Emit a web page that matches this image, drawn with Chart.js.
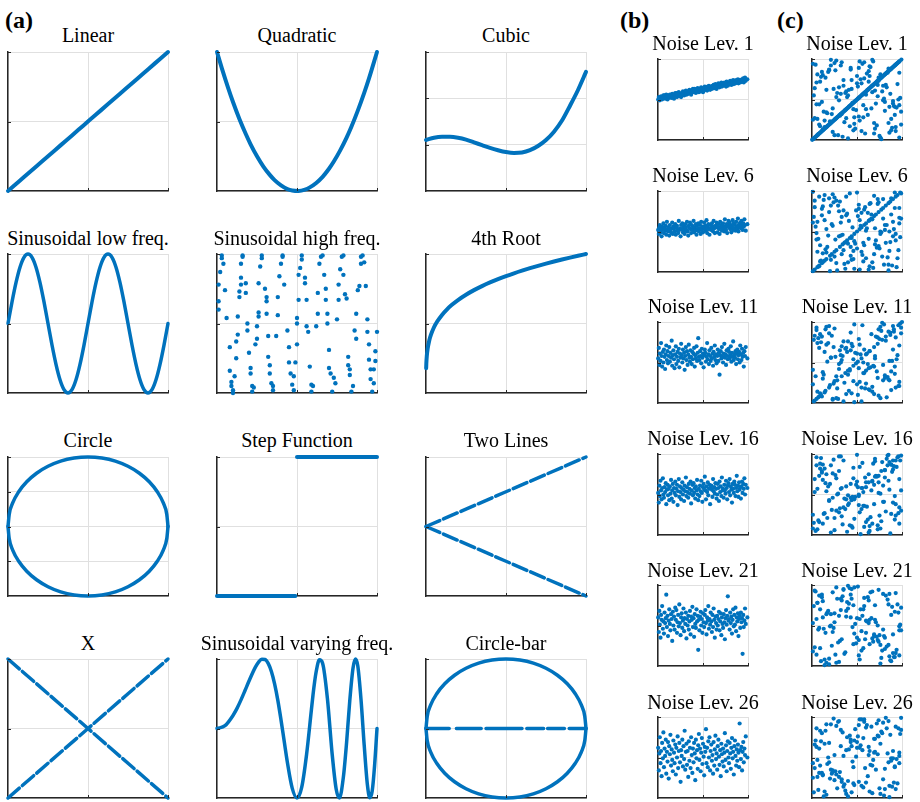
<!DOCTYPE html>
<html>
<head>
<meta charset="utf-8">
<script src="https://cdn.jsdelivr.net/npm/chart.js@4.4.0/dist/chart.umd.min.js"></script>
<style>
  body { margin: 0; background: #fff; width: 920px; height: 802px; position: relative; overflow: hidden; font-family: 'Liberation Serif', 'Times New Roman', serif; }
  .ttl { position: absolute; width: 300px; text-align: center; font-size: 20px; line-height: 24px; color: #000; white-space: nowrap; }
  .lbl { position: absolute; font-size: 24px; line-height: 24px; font-weight: bold; color: #000; }
  canvas { position: absolute; }
</style>
</head>
<body>
<div class="lbl" style="left:5px;top:8px">(a)</div>
<div class="lbl" style="left:620px;top:8px">(b)</div>
<div class="lbl" style="left:777px;top:8px">(c)</div>
<script>
// ---- (a) function shapes ----
const curveX = [0,0.03,0.07,0.1,0.14,0.18,0.21,0.25,0.29,0.33,0.36,0.4,0.44,0.47,0.51,0.55,0.58,0.62,0.66,0.7,0.73,0.77,0.81,0.84,0.88,0.92,0.95,1];
const linY = [0,0.03,0.07,0.1,0.14,0.18,0.21,0.25,0.29,0.33,0.36,0.4,0.44,0.47,0.51,0.55,0.58,0.62,0.66,0.7,0.73,0.77,0.81,0.84,0.88,0.92,0.95,1];
const quadY = [1,0.884,0.74,0.64,0.518,0.41,0.336,0.25,0.176,0.116,0.078,0.04,0.014,0.004,0.0004,0.01,0.026,0.058,0.102,0.16,0.212,0.292,0.384,0.462,0.578,0.706,0.81,1];

const cubicX = [0,0.05,0.1,0.15,0.2,0.25,0.3,0.35,0.4,0.45,0.5,0.55,0.6,0.65,0.7,0.75,0.8,0.85,0.9,0.95,1];
const cubicY = [1.1,1.15,1.17,1.17,1.15,1.11,1.05,0.99,0.93,0.88,0.84,0.82,0.83,0.88,0.97,1.1,1.28,1.52,1.84,2.18,2.57];

const sinLowX = [0,0.025,0.05,0.075,0.1,0.125,0.15,0.175,0.2,0.225,0.25,0.275,0.3,0.325,0.35,0.375,0.4,0.425,0.45,0.475,0.5,0.525,0.55,0.575,0.6,0.625,0.65,0.675,0.7,0.725,0.75,0.775,0.8,0.825,0.85,0.875,0.9,0.925,0.95,0.975,1];
const sinLowY = [0.5,0.655,0.794,0.905,0.976,1,0.976,0.905,0.794,0.655,0.5,0.345,0.206,0.095,0.024,0,0.024,0.095,0.206,0.345,0.5,0.655,0.794,0.905,0.976,1,0.976,0.905,0.794,0.655,0.5,0.345,0.206,0.095,0.024,0,0.024,0.095,0.206,0.345,0.5];

const sinHighX = [0.01,0.01,0.01,0.02,0.03,0.03,0.04,0.05,0.06,0.08,0.08,0.09,0.09,0.10,0.10,0.11,0.12,0.12,0.13,0.13,0.14,0.14,0.15,0.15,0.15,0.16,0.16,0.18,0.18,0.19,0.19,0.20,0.21,0.21,0.22,0.22,0.23,0.24,0.25,0.25,0.26,0.26,0.26,0.27,0.28,0.28,0.30,0.31,0.31,0.31,0.32,0.32,0.33,0.33,0.34,0.35,0.35,0.37,0.38,0.38,0.39,0.40,0.41,0.41,0.42,0.44,0.45,0.45,0.46,0.47,0.48,0.48,0.49,0.50,0.50,0.50,0.51,0.51,0.52,0.53,0.53,0.55,0.55,0.56,0.56,0.57,0.58,0.59,0.59,0.60,0.62,0.63,0.63,0.64,0.65,0.66,0.67,0.68,0.68,0.69,0.69,0.70,0.70,0.71,0.72,0.73,0.74,0.75,0.76,0.76,0.77,0.78,0.79,0.79,0.80,0.81,0.82,0.82,0.83,0.83,0.84,0.85,0.86,0.87,0.87,0.88,0.89,0.90,0.90,0.91,0.92,0.93,0.94,0.94,0.95,0.95,0.96,0.96,0.97,0.98,0.98,0.99,0.99,1.00];
const sinHighY = [0.78,0.66,0.60,0.87,0.99,0.97,0.93,0.74,0.54,0.33,0.16,0.08,0.05,0.02,0.00,0.12,0.25,0.37,0.42,0.55,0.69,0.73,0.78,0.83,0.93,0.98,0.99,0.79,0.72,0.50,0.45,0.29,0.18,0.14,0.05,0.01,0.04,0.35,0.39,0.48,0.55,0.58,0.79,0.91,0.97,0.99,0.75,0.69,0.66,0.57,0.41,0.26,0.20,0.14,0.07,0.02,0.05,0.41,0.56,0.69,0.84,0.93,0.98,0.99,0.78,0.45,0.33,0.22,0.14,0.06,0.02,0.12,0.22,0.35,0.50,0.54,0.67,0.85,0.90,0.96,0.99,0.83,0.79,0.67,0.48,0.44,0.19,0.06,0.01,0.05,0.48,0.72,0.57,0.93,0.98,0.99,0.85,0.75,0.67,0.57,0.50,0.31,0.18,0.14,0.01,0.11,0.07,0.53,0.67,0.78,0.89,0.98,0.99,0.85,0.71,0.68,0.20,0.26,0.17,0.13,0.01,0.05,0.45,0.39,0.57,0.74,0.77,0.93,0.98,0.99,0.94,0.77,0.53,0.44,0.35,0.24,0.17,0.10,0.01,0.07,0.17,0.23,0.30,0.44];

const rootX = [0.001,0.002,0.005,0.01,0.02,0.03,0.05,0.07,0.1,0.13,0.16,0.2,0.25,0.3,0.35,0.4,0.45,0.5,0.55,0.6,0.65,0.7,0.75,0.8,0.85,0.9,0.95,1];
const rootY = [0.178,0.211,0.266,0.316,0.376,0.416,0.473,0.514,0.562,0.6005,0.6325,0.6687,0.7071,0.7401,0.7692,0.7953,0.819,0.8409,0.8612,0.8801,0.8979,0.9147,0.9306,0.9457,0.9602,0.974,0.9873,1];

const circX = [-1,-0.985,-0.94,-0.866,-0.766,-0.643,-0.5,-0.342,-0.174,0,0.174,0.342,0.5,0.643,0.766,0.866,0.94,0.985,1];
const circUpY = [0,0.174,0.342,0.5,0.643,0.766,0.866,0.94,0.985,1,0.985,0.94,0.866,0.766,0.643,0.5,0.342,0.174,0];
const circLoY = [0,-0.174,-0.342,-0.5,-0.643,-0.766,-0.866,-0.94,-0.985,-1,-0.985,-0.94,-0.866,-0.766,-0.643,-0.5,-0.342,-0.174,0];

const stepLoX = [0,0.1,0.2,0.3,0.4,0.49];
const stepLoY = [0,0,0,0,0,0];
const stepHiX = [0.5,0.6,0.7,0.8,0.9,1];
const stepHiY = [1,1,1,1,1,1];

const twoX = [0,0.25,0.5,0.75,1];
const twoUpY = [0.5,0.625,0.75,0.875,1];
const twoLoY = [0.5,0.375,0.25,0.125,0];

const crossX = [0,0.25,0.5,0.75,1];
const crossUpY = [0,0.25,0.5,0.75,1];
const crossDnY = [1,0.75,0.5,0.25,0];

const varX = [0,0.05,0.1,0.125,0.15,0.175,0.2,0.24,0.26,0.28,0.3,0.32,0.34,0.36,0.38,0.4,0.42,0.44,0.47,0.5,0.53,0.56,0.59,0.6,0.61,0.62,0.64,0.66,0.69,0.72,0.745,0.765,0.79,0.81,0.83,0.85,0.865,0.88,0.9,0.92,0.94,0.955,0.97,0.985,1];
const varY = [0.5,0.52,0.594,0.645,0.706,0.773,0.842,0.942,0.978,0.998,0.996,0.968,0.91,0.821,0.704,0.562,0.408,0.256,0.071,0,0.08,0.315,0.635,0.741,0.834,0.91,0.994,0.97,0.717,0.313,0.063,0,0.152,0.4,0.703,0.934,1,0.95,0.71,0.38,0.095,0.002,0.05,0.235,0.5];

const barX = [-1,-0.71,-0.66,-0.62,-0.31,-0.28,-0.25,0.2,0.23,0.26,0.47,0.5,0.52,0.73,0.76,0.79,1];
const barY = [0,0,null,0,0,null,0,0,null,0,0,null,0,0,null,0,0];

// ---- (b) and (c) noise levels ----
const noiseLevels = ['Noise Lev. 1','Noise Lev. 6','Noise Lev. 11','Noise Lev. 16','Noise Lev. 21','Noise Lev. 26'];
const noiseX = [0.002,0.009,0.015,0.020,0.028,0.034,0.040,0.046,0.054,0.060,
  0.066,0.073,0.079,0.086,0.092,0.099,0.106,0.111,0.119,0.125,
  0.132,0.138,0.145,0.152,0.158,0.165,0.171,0.178,0.184,0.192,
  0.198,0.204,0.211,0.218,0.224,0.231,0.237,0.244,0.251,0.257,
  0.263,0.270,0.277,0.283,0.290,0.296,0.303,0.310,0.316,0.322,
  0.329,0.336,0.342,0.349,0.355,0.362,0.368,0.375,0.382,0.388,
  0.395,0.401,0.408,0.414,0.421,0.428,0.434,0.441,0.447,0.454,
  0.460,0.467,0.474,0.480,0.487,0.493,0.500,0.507,0.513,0.520,
  0.526,0.533,0.539,0.546,0.553,0.559,0.566,0.572,0.579,0.585,
  0.592,0.599,0.605,0.612,0.618,0.625,0.631,0.638,0.645,0.651,
  0.658,0.664,0.671,0.677,0.684,0.691,0.697,0.704,0.710,0.717,
  0.723,0.730,0.737,0.743,0.750,0.756,0.763,0.769,0.776,0.783,
  0.789,0.796,0.802,0.809,0.815,0.822,0.829,0.835,0.842,0.848,
  0.855,0.861,0.868,0.875,0.881,0.888,0.894,0.901,0.907,0.914,
  0.921,0.927,0.934,0.940,0.947,0.953,0.960,0.967,0.975,0.993];

const b1Y = [0.50,0.53,0.52,0.49,0.51,0.54,0.52,0.50,0.53,0.55,
  0.52,0.55,0.51,0.54,0.56,0.53,0.50,0.54,0.52,0.55,
  0.56,0.53,0.55,0.52,0.57,0.55,0.54,0.51,0.56,0.58,
  0.55,0.58,0.53,0.57,0.56,0.59,0.54,0.57,0.55,0.53,
  0.58,0.56,0.60,0.57,0.55,0.59,0.58,0.61,0.56,0.58,
  0.60,0.57,0.59,0.62,0.58,0.60,0.56,0.61,0.59,0.63,
  0.61,0.59,0.63,0.60,0.58,0.62,0.61,0.64,0.60,0.59,
  0.63,0.60,0.62,0.65,0.61,0.63,0.59,0.64,0.62,0.66,
  0.62,0.65,0.64,0.61,0.66,0.63,0.67,0.64,0.62,0.65,
  0.66,0.63,0.67,0.65,0.68,0.64,0.66,0.69,0.65,0.63,
  0.68,0.66,0.70,0.67,0.65,0.69,0.68,0.71,0.66,0.68,
  0.69,0.67,0.71,0.68,0.70,0.66,0.72,0.69,0.67,0.70,
  0.71,0.69,0.73,0.70,0.68,0.72,0.71,0.74,0.69,0.72,
  0.72,0.70,0.74,0.71,0.73,0.75,0.70,0.72,0.74,0.71,
  0.74,0.72,0.75,0.73,0.76,0.71,0.74,0.77,0.73,0.75];
const b6Y = [0.52,0.47,0.55,0.58,0.49,0.51,0.44,0.56,0.53,0.60,
  0.48,0.54,0.51,0.57,0.46,0.62,0.53,0.50,0.55,0.45,
  0.58,0.52,0.49,0.54,0.61,0.47,0.56,0.53,0.50,0.59,
  0.46,0.55,0.57,0.51,0.48,0.63,0.52,0.54,0.44,0.58,
  0.53,0.60,0.49,0.56,0.52,0.47,0.59,0.55,0.51,0.62,
  0.50,0.45,0.57,0.54,0.61,0.53,0.48,0.58,0.52,0.56,
  0.63,0.49,0.55,0.51,0.59,0.46,0.57,0.53,0.60,0.50,
  0.54,0.58,0.47,0.62,0.52,0.56,0.49,0.55,0.61,0.53,
  0.57,0.51,0.64,0.48,0.55,0.59,0.53,0.46,0.58,0.54,
  0.52,0.60,0.56,0.50,0.63,0.54,0.48,0.57,0.55,0.61,
  0.49,0.56,0.59,0.53,0.47,0.62,0.55,0.58,0.51,0.57,
  0.60,0.54,0.50,0.65,0.56,0.52,0.59,0.48,0.57,0.63,
  0.55,0.61,0.53,0.58,0.49,0.56,0.64,0.52,0.60,0.54,
  0.58,0.51,0.62,0.56,0.53,0.66,0.50,0.59,0.55,0.61,
  0.54,0.63,0.57,0.52,0.60,0.56,0.65,0.58,0.51,0.59];
const b11Y = [0.55,0.68,0.47,0.61,0.52,0.74,0.58,0.45,0.63,0.50,
  0.66,0.57,0.42,0.60,0.71,0.53,0.64,0.49,0.58,0.69,
  0.51,0.62,0.56,0.77,0.46,0.59,0.65,0.54,0.43,0.60,
  0.70,0.48,0.57,0.63,0.52,0.67,0.44,0.61,0.56,0.73,
  0.59,0.50,0.66,0.55,0.62,0.41,0.58,0.69,0.53,0.64,
  0.47,0.60,0.72,0.56,0.51,0.65,0.57,0.48,0.63,0.54,
  0.61,0.68,0.45,0.59,0.55,0.70,0.52,0.62,0.80,0.57,
  0.53,0.64,0.58,0.49,0.67,0.56,0.61,0.44,0.59,0.66,
  0.62,0.51,0.57,0.74,0.54,0.60,0.48,0.65,0.58,0.52,
  0.68,0.55,0.61,0.46,0.63,0.57,0.71,0.53,0.60,0.49,
  0.58,0.66,0.52,0.62,0.35,0.59,0.64,0.55,0.69,0.57,
  0.50,0.61,0.73,0.56,0.60,0.47,0.65,0.58,0.54,0.67,
  0.63,0.55,0.59,0.70,0.51,0.62,0.57,0.76,0.53,0.60,
  0.56,0.64,0.48,0.61,0.66,0.54,0.59,0.63,0.50,0.71,
  0.60,0.53,0.67,0.57,0.62,0.45,0.64,0.58,0.69,0.55];
const b16Y = [0.52,0.40,0.61,0.48,0.67,0.55,0.44,0.58,0.70,0.50,
  0.46,0.59,0.53,0.64,0.38,0.56,0.62,0.49,0.57,0.43,
  0.60,0.51,0.68,0.45,0.55,0.63,0.41,0.58,0.52,0.66,
  0.49,0.57,0.62,0.37,0.54,0.69,0.47,0.60,0.53,0.44,
  0.58,0.65,0.50,0.56,0.42,0.61,0.54,0.71,0.48,0.59,
  0.53,0.46,0.63,0.57,0.51,0.66,0.39,0.55,0.62,0.49,
  0.64,0.52,0.58,0.45,0.60,0.55,0.68,0.50,0.43,0.57,
  0.48,0.61,0.54,0.67,0.52,0.41,0.59,0.63,0.56,0.72,
  0.55,0.44,0.60,0.53,0.65,0.49,0.57,0.62,0.38,0.58,
  0.61,0.56,0.47,0.69,0.54,0.59,0.51,0.64,0.57,0.45,
  0.50,0.63,0.58,0.42,0.66,0.53,0.60,0.48,0.71,0.55,
  0.57,0.46,0.62,0.55,0.51,0.67,0.58,0.44,0.61,0.64,
  0.53,0.69,0.49,0.60,0.56,0.40,0.63,0.57,0.52,0.66,
  0.62,0.48,0.58,0.73,0.54,0.61,0.47,0.65,0.56,0.59,
  0.45,0.60,0.66,0.52,0.63,0.57,0.70,0.50,0.62,0.58];
const b21Y = [0.60,0.42,0.68,0.51,0.35,0.63,0.57,0.74,0.46,0.55,
  0.40,0.66,0.53,0.59,0.88,0.48,0.62,0.37,0.56,0.70,
  0.52,0.44,0.64,0.58,0.31,0.67,0.50,0.61,0.45,0.72,
  0.57,0.69,0.41,0.54,0.63,0.49,0.76,0.53,0.38,0.60,
  0.65,0.47,0.56,0.71,0.43,0.59,0.52,0.66,0.34,0.58,
  0.50,0.62,0.45,0.55,0.68,0.39,0.61,0.57,0.73,0.48,
  0.59,0.36,0.64,0.52,0.47,0.70,0.55,0.62,0.20,0.57,
  0.44,0.61,0.67,0.50,0.58,0.41,0.65,0.54,0.48,0.63,
  0.69,0.53,0.39,0.60,0.56,0.74,0.46,0.58,0.51,0.66,
  0.55,0.42,0.63,0.48,0.71,0.57,0.35,0.61,0.53,0.45,
  0.62,0.50,0.58,0.67,0.44,0.55,0.65,0.38,0.60,0.52,
  0.47,0.64,0.54,0.33,0.59,0.69,0.51,0.62,0.86,0.56,
  0.58,0.45,0.66,0.53,0.61,0.40,0.57,0.70,0.49,0.63,
  0.51,0.72,0.43,0.60,0.55,0.65,0.37,0.58,0.62,0.47,
  0.66,0.54,0.59,0.15,0.63,0.48,0.56,0.71,0.52,0.60];
const b26Y = [0.62,0.34,0.55,0.75,0.43,0.58,0.27,0.68,0.49,0.81,
  0.38,0.61,0.52,0.72,0.30,0.57,0.45,0.69,0.24,0.64,
  0.54,0.78,0.40,0.60,0.47,0.33,0.71,0.56,0.43,0.66,
  0.29,0.62,0.50,0.76,0.37,0.58,0.68,0.44,0.20,0.59,
  0.52,0.72,0.39,0.64,0.48,0.83,0.35,0.57,0.67,0.41,
  0.58,0.26,0.70,0.46,0.62,0.37,0.75,0.53,0.31,0.61,
  0.44,0.68,0.55,0.22,0.72,0.49,0.59,0.36,0.65,0.79,
  0.47,0.61,0.33,0.56,0.74,0.42,0.67,0.51,0.28,0.63,
  0.57,0.85,0.43,0.62,0.38,0.70,0.50,0.75,0.34,0.58,
  0.66,0.46,0.53,0.30,0.69,0.40,0.60,0.77,0.48,0.55,
  0.35,0.64,0.72,0.51,0.41,0.59,0.27,0.67,0.54,0.45,
  0.61,0.39,0.56,0.80,0.47,0.65,0.33,0.58,0.70,0.50,
  0.43,0.68,0.55,0.36,0.62,0.74,0.49,0.57,0.29,0.64,
  0.71,0.52,0.40,0.60,0.46,0.66,0.56,0.38,0.92,0.59,
  0.48,0.63,0.34,0.57,0.69,0.44,0.61,0.53,0.76,0.50];

// (c): points on the diagonal plus scattered points
const diag6 = [0.01,0.03,0.06,0.08,0.11,0.12,0.14,0.16,0.2,0.22,0.25,0.27,0.31,0.34,0.36,0.37,0.39,0.42,0.44,0.47,0.5,0.53,0.55,0.58,0.6,0.63,0.64,0.66,0.69,0.71,0.74,0.77,0.79,0.82,0.85,0.87,0.9,0.93,0.95,0.98];
const diag11 = [0.02,0.05,0.07,0.1,0.15,0.19,0.24,0.28,0.33,0.37,0.4,0.42,0.46,0.51,0.55,0.6,0.64,0.69,0.73,0.78,0.82,0.87,0.91,0.96,1.0];
const diag16X = [0.12,0.3,0.45,0.52,0.56,0.6,0.63,0.67,0.7,0.74,0.77,0.81,0.84,0.88,0.9,0.93,0.96,0.99];
const diag16Y = [0.14,0.28,0.47,0.5,0.58,0.59,0.65,0.66,0.72,0.73,0.79,0.8,0.86,0.87,0.92,0.92,0.97,0.98];

const scatterX = [0.62,0.15,0.88,0.37,0.04,0.71,0.29,0.95,0.53,0.18,
  0.80,0.42,0.09,0.66,0.33,0.97,0.24,0.57,0.76,0.11,
  0.48,0.85,0.02,0.69,0.35,0.91,0.21,0.59,0.44,0.13,
  0.78,0.06,0.64,0.30,0.93,0.50,0.17,0.83,0.40,0.73,
  0.26,0.99,0.55,0.08,0.68,0.38,0.87,0.12,0.61,0.46,
  0.03,0.75,0.32,0.90,0.20,0.58,0.81,0.43,0.14,0.70,
  0.97,0.27,0.52,0.05,0.86,0.39,0.63,0.22,0.79,0.47,
  0.10,0.92,0.34,0.67,0.56,0.01,0.74,0.45,0.89,0.19,
  0.60,0.31,0.84,0.07,0.51,0.94,0.25,0.72,0.41,0.16,
  0.65,0.98,0.36,0.54,0.23,0.82,0.49,0.12,0.77,0.28,
  0.90,0.58,0.03,0.44,0.70,0.19,0.96,0.33,0.63,0.08,
  0.52,0.86,0.25,0.74,0.40,0.14,0.67,0.99,0.30,0.55,
  0.06,0.81,0.47,0.21,0.93,0.38,0.60,0.11,0.76,0.50,
  0.27,0.85,0.01,0.57,0.35,0.69,0.16,0.92,0.43,0.79,
  0.09,0.64,0.32,0.88,0.53,0.23,0.73,0.46,0.97,0.05];

const sc1Y = [0.31,0.77,0.12,0.58,0.93,0.45,0.06,0.69,0.24,0.84,
  0.51,0.17,0.72,0.39,0.96,0.03,0.63,0.28,0.81,0.47,
  0.14,0.88,0.55,0.21,0.67,0.42,0.99,0.08,0.74,0.35,
  0.60,0.26,0.91,0.49,0.11,0.79,0.33,0.65,0.02,0.54,
  0.86,0.19,0.70,0.44,0.97,0.27,0.57,0.13,0.82,0.38,
  0.64,0.05,0.92,0.48,0.23,0.76,0.36,0.89,0.16,0.61,
  0.43,0.98,0.29,0.71,0.09,0.53,0.85,0.32,0.67,0.20,
  0.78,0.41,0.04,0.59,0.94,0.25,0.73,0.46,0.15,0.87,
  0.56,0.30,0.83,0.07,0.66,0.40,0.95,0.18,0.62,0.34,
  0.90,0.52,0.22,0.75,0.10,0.68,0.37,0.80,0.01,0.58,
  0.45,0.96,0.27,0.63,0.14,0.86,0.50,0.32,0.72,0.19,
  0.89,0.41,0.06,0.77,0.55,0.24,0.99,0.35,0.65,0.11,
  0.81,0.47,0.28,0.92,0.16,0.60,0.38,0.84,0.03,0.70,
  0.53,0.21,0.94,0.43,0.74,0.08,0.62,0.31,0.87,0.49,
  0.17,0.79,0.57,0.26,0.97,0.39,0.68,0.12,0.83,0.44];
const sc6Y = [0.73,0.28,0.91,0.04,0.56,0.39,0.82,0.17,0.64,0.45,
  0.09,0.97,0.33,0.71,0.22,0.60,0.86,0.13,0.50,0.78,
  0.35,0.02,0.68,0.94,0.27,0.53,0.15,0.80,0.42,0.89,
  0.19,0.62,0.07,0.75,0.47,0.98,0.31,0.58,0.12,0.84,
  0.40,0.66,0.25,0.93,0.05,0.70,0.37,0.81,0.54,0.16,
  0.88,0.29,0.61,0.44,0.01,0.77,0.52,0.20,0.95,0.34,
  0.67,0.11,0.83,0.48,0.26,0.72,0.03,0.59,0.90,0.38,
  0.14,0.79,0.46,0.65,0.21,0.99,0.32,0.55,0.08,0.74,
  0.51,0.87,0.18,0.41,0.69,0.06,0.92,0.30,0.63,0.24,
  0.85,0.43,0.10,0.57,0.96,0.36,0.76,0.23,0.49,0.02,
  0.62,0.33,0.80,0.15,0.54,0.91,0.27,0.68,0.41,0.07,
  0.78,0.50,0.19,0.86,0.35,0.64,0.12,0.97,0.44,0.73,
  0.25,0.58,0.04,0.82,0.39,0.93,0.17,0.70,0.47,0.29,
  0.88,0.09,0.61,0.36,0.76,0.22,0.53,0.98,0.31,0.66,
  0.13,0.84,0.45,0.71,0.03,0.57,0.90,0.26,0.79,0.40];
const sc11Y = [0.48,0.91,0.16,0.67,0.33,0.82,0.05,0.59,0.26,0.74,
  0.97,0.40,0.12,0.85,0.53,0.21,0.69,0.37,0.94,0.08,
  0.62,0.29,0.78,0.45,0.02,0.88,0.56,0.18,0.73,0.35,
  0.99,0.14,0.64,0.42,0.81,0.23,0.51,0.07,0.76,0.31,
  0.57,0.93,0.19,0.68,0.46,0.11,0.84,0.38,0.61,0.27,
  0.03,0.79,0.50,0.95,0.22,0.66,0.34,0.87,0.13,0.55,
  0.71,0.06,0.43,0.90,0.28,0.63,0.17,0.83,0.47,0.01,
  0.75,0.36,0.58,0.20,0.96,0.41,0.09,0.70,0.52,0.86,
  0.24,0.65,0.32,0.80,0.10,0.54,0.92,0.39,0.15,0.72,
  0.44,0.98,0.25,0.60,0.04,0.77,0.49,0.30,0.89,0.18,
  0.66,0.37,0.83,0.12,0.58,0.95,0.21,0.70,0.43,0.08,
  0.79,0.52,0.27,0.91,0.35,0.63,0.14,0.86,0.48,0.02,
  0.74,0.31,0.97,0.56,0.19,0.68,0.40,0.82,0.06,0.61,
  0.33,0.88,0.23,0.50,0.76,0.11,0.94,0.45,0.65,0.28,
  0.85,0.16,0.59,0.39,0.72,0.05,0.81,0.54,0.26,0.93];
const sc16Y = [0.19,0.64,0.87,0.32,0.05,0.73,0.51,0.96,0.28,0.60,
  0.41,0.12,0.82,0.55,0.23,0.69,0.93,0.36,0.08,0.77,
  0.47,0.99,0.15,0.62,0.34,0.85,0.03,0.71,0.43,0.26,
  0.90,0.57,0.11,0.79,0.38,0.66,0.21,0.94,0.49,0.07,
  0.74,0.30,0.58,0.16,0.88,0.44,0.02,0.68,0.35,0.83,
  0.53,0.24,0.97,0.40,0.63,0.10,0.80,0.46,0.27,0.91,
  0.14,0.70,0.37,0.86,0.56,0.04,0.75,0.31,0.61,0.20,
  0.95,0.48,0.13,0.67,0.89,0.25,0.52,0.09,0.78,0.42,
  0.65,0.33,0.98,0.18,0.59,0.84,0.06,0.72,0.39,0.54,
  0.22,0.92,0.45,0.01,0.76,0.29,0.62,0.87,0.17,0.50,
  0.81,0.36,0.69,0.11,0.94,0.43,0.27,0.58,0.03,0.73,
  0.48,0.90,0.21,0.65,0.37,0.82,0.14,0.55,0.97,0.32,
  0.07,0.71,0.44,0.86,0.24,0.60,0.16,0.79,0.51,0.99,
  0.30,0.67,0.08,0.53,0.92,0.38,0.75,0.19,0.63,0.41,
  0.88,0.05,0.57,0.26,0.84,0.46,0.12,0.70,0.34,0.96];
const sc21Y = [0.85,0.41,0.63,0.17,0.92,0.54,0.29,0.76,0.08,0.68,
  0.37,0.96,0.22,0.59,0.81,0.13,0.47,0.70,0.03,0.88,
  0.52,0.26,0.74,0.39,0.95,0.11,0.64,0.33,0.83,0.46,
  0.19,0.78,0.57,0.05,0.90,0.35,0.66,0.24,0.99,0.50,
  0.14,0.72,0.43,0.87,0.30,0.61,0.07,0.80,0.55,0.27,
  0.93,0.38,0.69,0.16,0.49,0.84,0.21,0.60,0.01,0.75,
  0.44,0.97,0.32,0.58,0.12,0.79,0.53,0.25,0.89,0.40,
  0.06,0.67,0.86,0.34,0.62,0.18,0.94,0.48,0.73,0.09,
  0.56,0.31,0.82,0.45,0.98,0.20,0.65,0.36,0.77,0.04,
  0.91,0.51,0.15,0.70,0.42,0.87,0.28,0.60,0.10,0.83,
  0.39,0.74,0.23,0.95,0.57,0.02,0.66,0.33,0.81,0.47,
  0.13,0.89,0.54,0.30,0.71,0.08,0.92,0.44,0.62,0.19,
  0.78,0.35,0.97,0.50,0.16,0.68,0.41,0.85,0.26,0.59,
  0.04,0.76,0.53,0.22,0.94,0.37,0.64,0.11,0.88,0.45,
  0.70,0.27,0.83,0.06,0.58,0.91,0.32,0.75,0.49,0.14];
const sc26Y = [0.27,0.83,0.46,0.09,0.71,0.35,0.94,0.18,0.62,0.50,
  0.03,0.77,0.40,0.88,0.23,0.56,0.98,0.13,0.67,0.31,
  0.85,0.44,0.07,0.73,0.52,0.19,0.91,0.37,0.64,0.02,
  0.80,0.26,0.58,0.95,0.11,0.69,0.42,0.86,0.21,0.54,
  0.33,0.99,0.15,0.61,0.47,0.05,0.78,0.29,0.90,0.38,
  0.66,0.12,0.84,0.49,0.24,0.97,0.36,0.72,0.08,0.57,
  0.43,0.89,0.20,0.63,0.01,0.75,0.53,0.30,0.93,0.16,
  0.70,0.39,0.81,0.06,0.59,0.25,0.96,0.45,0.14,0.68,
  0.87,0.32,0.55,0.10,0.76,0.48,0.22,0.92,0.60,0.04,
  0.41,0.79,0.17,0.65,0.34,0.99,0.51,0.28,0.82,0.12,
  0.58,0.94,0.37,0.07,0.73,0.44,0.86,0.20,0.63,0.31,
  0.90,0.15,0.53,0.76,0.02,0.67,0.40,0.84,0.26,0.97,
  0.47,0.11,0.71,0.35,0.88,0.59,0.19,0.80,0.05,0.62,
  0.29,0.95,0.43,0.74,0.14,0.56,0.91,0.38,0.69,0.23,
  0.83,0.08,0.64,0.49,0.97,0.32,0.77,0.18,0.52,0.86];

const bSeries = [b1Y, b6Y, b11Y, b16Y, b21Y, b26Y];
const cScatter = [sc1Y, sc6Y, sc11Y, sc16Y, sc21Y, sc26Y];
const cDiagX = [noiseX, diag6, diag11, diag16X, [], []];
const cDiagY = [noiseX, diag6, diag11, diag16Y, [], []];

const BLUE = '#0072BD';
const PAD = 5;

function pts(xs, ys) { return xs.map((x, i) => ({ x: x, y: ys[i] })); }

function dots(xs, ys, r) {
  return { data: pts(xs, ys), showLine: false, pointRadius: r || 2.2, pointBackgroundColor: BLUE, pointBorderWidth: 0, clip: false };
}
function curve(xs, ys, extra) {
  return Object.assign({
    data: pts(xs, ys), showLine: true, borderColor: BLUE, borderWidth: 4,
    borderCapStyle: 'round', borderJoinStyle: 'round', cubicInterpolationMode: 'monotone',
    pointRadius: 0, spanGaps: false, clip: false
  }, extra || {});
}

// little inward tick marks on the left and bottom axes
const innerTicks = {
  id: 'innerTicks',
  afterDraw(chart) {
    const { ctx, chartArea: a } = chart;
    const sx = chart.scales.x, sy = chart.scales.y;
    ctx.save();
    ctx.strokeStyle = '#262626';
    ctx.lineWidth = 1;
    ctx.beginPath();
    sx.ticks.forEach(t => {
      if (t.value === sx.min) return;
      const px = Math.round(sx.getPixelForValue(t.value)) + 0.5;
      ctx.moveTo(px, a.bottom); ctx.lineTo(px, a.bottom - 3);
    });
    sy.ticks.forEach(t => {
      if (t.value === sy.min) return;
      const py = Math.round(sy.getPixelForValue(t.value)) + 0.5;
      ctx.moveTo(a.left, py); ctx.lineTo(a.left + 3, py);
    });
    ctx.stroke();
    ctx.restore();
  }
};

function axis(r) {
  return {
    type: 'linear', min: r[0], max: r[1],
    ticks: { display: false, stepSize: r[2] },
    grid: { color: '#e0e0e0', lineWidth: 1, drawTicks: false },
    border: { color: '#262626', width: 1.5 }
  };
}

function addTitle(text, cx, cy) {
  const d = document.createElement('div');
  d.className = 'ttl';
  d.textContent = text;
  d.style.left = (cx - 150) + 'px';
  d.style.top = (cy - 12) + 'px';
  document.body.appendChild(d);
}

function panel(title, left, top, w, h, titleY, datasets, xr, yr) {
  addTitle(title, left + w / 2, titleY);
  const cv = document.createElement('canvas');
  cv.width = w + 2 * PAD;
  cv.height = h + 2 * PAD;
  cv.style.left = (left - PAD) + 'px';
  cv.style.top = (top - PAD) + 'px';
  document.body.appendChild(cv);
  return new Chart(cv, {
    type: 'scatter',
    data: { datasets: datasets },
    options: {
      responsive: false, animation: false, events: [],
      layout: { padding: PAD },
      plugins: { legend: { display: false }, tooltip: { enabled: false } },
      scales: { x: axis(xr), y: axis(yr) }
    },
    plugins: [innerTicks]
  });
}

// (a) grid of 12 shapes
const colA = [8, 217, 426];
const rowA = [52, 254, 457, 659];
const titleA = [35, 238, 440, 643];
const WA = 160, HA = 139;
const U = [0, 1, 0.5];
const straight = { cubicInterpolationMode: 'default' };
const dashed = { cubicInterpolationMode: 'default', borderWidth: 3.5, borderDash: [15, 4] };

panel('Linear', colA[0], rowA[0], WA, HA, titleA[0], [curve(curveX, linY, straight)], U, U);
panel('Quadratic', colA[1], rowA[0], WA, HA, titleA[0], [curve(curveX, quadY)], U, U);
panel('Cubic', colA[2], rowA[0], WA, HA, titleA[0], [curve(cubicX, cubicY)], U, [0, 3, 1]);

panel('Sinusoidal low freq.', colA[0], rowA[1], WA, HA, titleA[1], [curve(sinLowX, sinLowY, { borderWidth: 3.5 })], U, U);
panel('Sinusoidal high freq.', colA[1], rowA[1], WA, HA, titleA[1], [dots(sinHighX, sinHighY, 2.2)], U, U);
panel('4th Root', colA[2], rowA[1], WA, HA, titleA[1], [curve(rootX, rootY)], U, U);

panel('Circle', colA[0], rowA[2], WA, HA, titleA[2], [curve(circX, circUpY, { borderWidth: 3.5 }), curve(circX, circLoY, { borderWidth: 3.5 })], [-1, 1, 1], [-1, 1, 0.5]);
panel('Step Function', colA[1], rowA[2], WA, HA, titleA[2], [curve(stepLoX, stepLoY, straight), curve(stepHiX, stepHiY, straight)], U, U);
panel('Two Lines', colA[2], rowA[2], WA, HA, titleA[2], [curve(twoX, twoUpY, dashed), curve(twoX, twoLoY, dashed)], U, U);

panel('X', colA[0], rowA[3], WA, HA, titleA[3], [curve(crossX, crossUpY, dashed), curve(crossX, crossDnY, dashed)], U, U);
panel('Sinusoidal varying freq.', colA[1], rowA[3], WA, HA, titleA[3], [curve(varX, varY, { borderWidth: 3.5 })], U, U);
panel('Circle-bar', colA[2], rowA[3], WA, HA, titleA[3], [curve(circX, circUpY, { borderWidth: 3.5 }), curve(circX, circLoY, { borderWidth: 3.5 }), curve(barX, barY, { cubicInterpolationMode: 'default', borderWidth: 3.5 })], [-1, 1, 1], [-1, 1, 1]);

// (b) and (c) noise columns
const rowB = [59, 191, 322, 454, 585, 717];
const titleB = [43, 175, 306, 438, 570, 702];
noiseLevels.forEach((name, i) => {
  panel(name, 658, rowB[i], 90, 81, titleB[i], [dots(noiseX, bSeries[i], 2.1)], U, U);
  panel(name, 812, rowB[i], 90, 81, titleB[i], [dots(cDiagX[i], cDiagY[i], 2.1), dots(scatterX, cScatter[i], 2.1)], U, U);
});
</script>
</body>
</html>
